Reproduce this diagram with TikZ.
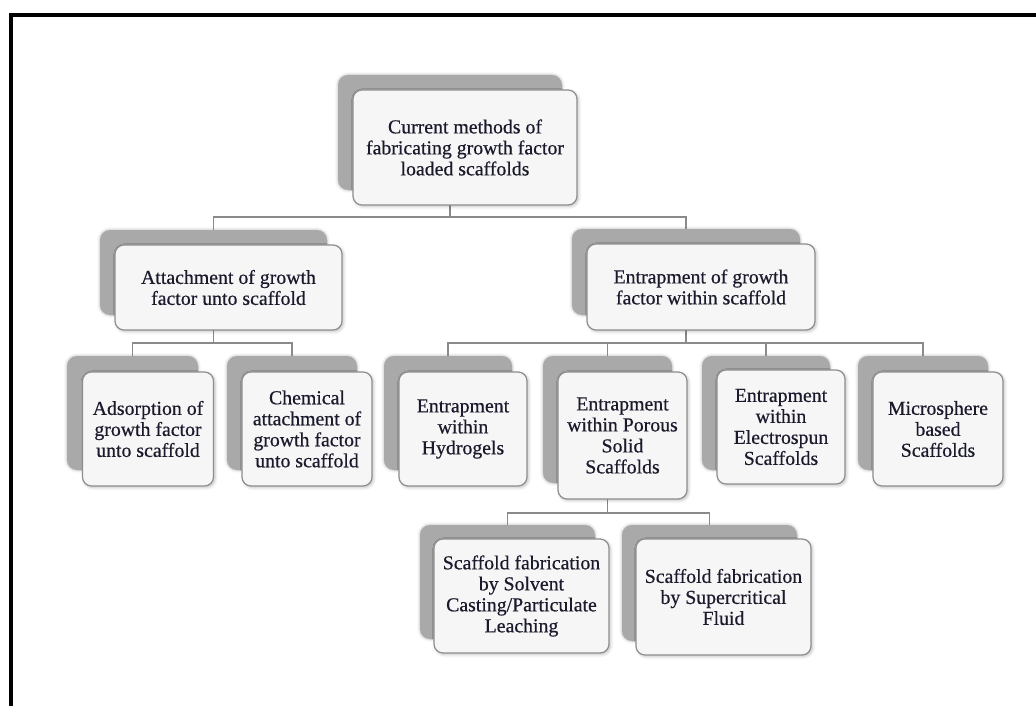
\documentclass[tikz,border=0pt]{standalone}
\usepackage{fontspec}
\setmainfont{Liberation Serif}
\newfontfamily\boxfont[FakeBold=0.5]{Liberation Serif}
\usetikzlibrary{shadows.blur}
\definecolor{backgray}{HTML}{A9A9A9}
\definecolor{edgegray}{HTML}{8E8E8E}
\definecolor{linegray}{HTML}{8A8A8A}
\definecolor{inkblue}{HTML}{1A1A2C}
\definecolor{facegray}{HTML}{F6F6F6}

\begin{document}
\begin{tikzpicture}[x=1pt,y=-1pt,
  backbox/.style={fill=backgray, rounded corners=10pt, inner sep=0pt,
    blur shadow={shadow xshift=0pt, shadow yshift=0pt, shadow blur radius=3pt, shadow blur steps=5, shadow opacity=30}},
  facebox/.style={draw=edgegray, line width=1.2pt, fill=facegray, rounded corners=9pt,
    inner sep=0pt, align=center, text=inkblue, font=\boxfont\fontsize{19.8}{21}\selectfont,
    blur shadow={shadow xshift=1.5pt, shadow yshift=-1.5pt, shadow blur radius=3pt, shadow blur steps=5, shadow opacity=25}},
  link/.style={draw=linegray, line width=1.3pt},
  frame/.style={draw=black, line width=4pt}
]
\useasboundingbox (0,0) rectangle (1036,706);

% outer frame (top and left edges)
\draw[frame] (11,710) -- (11,15) -- (1040,15);

% grey backing plates
\node[backbox, minimum width=224pt, minimum height=115pt] (topB) at (450,132.5) {};
\node[backbox, minimum width=227pt, minimum height=85pt]  (attB) at (213.5,272.5) {};
\node[backbox, minimum width=228pt, minimum height=86pt]  (entB) at (686,272) {};
\node[backbox, minimum width=131pt, minimum height=114pt] (adsB) at (132.5,413) {};
\node[backbox, minimum width=130pt, minimum height=114pt] (chmB) at (292,413) {};
\node[backbox, minimum width=128pt, minimum height=114pt] (hydB) at (448,413) {};
\node[backbox, minimum width=129pt, minimum height=127pt] (porB) at (607.5,419.5) {};
\node[backbox, minimum width=128pt, minimum height=114pt] (eleB) at (766,413) {};
\node[backbox, minimum width=130pt, minimum height=114pt] (micB) at (923,413) {};
\node[backbox, minimum width=175pt, minimum height=114pt] (solB) at (507.5,582) {};
\node[backbox, minimum width=175pt, minimum height=116pt] (supB) at (709.5,583) {};

% bus coordinates of the tree
\coordinate (busA) at (topB.south |- 0,217);
\coordinate (busB) at (attB.south |- 0,343);
\coordinate (busC) at (entB.south |- 0,343);
\coordinate (busD) at (porB.south |- 0,513);

% connectors
\draw[link] (topB.south) -- (busA);
\draw[link] (busA) -| (attB.north);
\draw[link] (busA) -| (entB.north);
\draw[link] (attB.south) -- (busB);
\draw[link] (busB) -| (adsB.north);
\draw[link] (busB) -| (chmB.north);
\draw[link] (entB.south) -- (busC);
\draw[link] (busC) -| (hydB.north);
\draw[link] (busC) -| (porB.north);
\draw[link] (busC) -| (eleB.north);
\draw[link] (busC) -| (micB.north);
\draw[link] (porB.south) -- (busD);
\draw[link] (busD) -| (solB.north);
\draw[link] (busD) -| (supB.north);

% white text boxes
\node[facebox, minimum width=224pt, minimum height=115pt] (top) at (465,147.5)
  {Current methods of\\fabricating growth factor\\loaded scaffolds};
\node[facebox, minimum width=227pt, minimum height=85pt] (att) at (228.5,287.5)
  {Attachment of growth\\factor unto scaffold};
\node[facebox, minimum width=228pt, minimum height=86pt] (ent) at (701,287)
  {Entrapment of growth\\factor within scaffold};
\node[facebox, minimum width=131pt, minimum height=114pt] (ads) at (148,429)
  {Adsorption of\\growth factor\\unto scaffold};
\node[facebox, minimum width=130pt, minimum height=114pt] (chm) at (307,429)
  {Chemical\\attachment of\\growth factor\\unto scaffold};
\node[facebox, minimum width=128pt, minimum height=114pt] (hyd) at (463,429)
  {Entrapment\\within\\Hydrogels};
\node[facebox, minimum width=129pt, minimum height=127pt] (por) at (622.5,435.5)
  {Entrapment\\within Porous\\Solid\\Scaffolds};
\node[facebox, minimum width=128pt, minimum height=114pt] (ele) at (781,427)
  {Entrapment\\within\\Electrospun\\Scaffolds};
\node[facebox, minimum width=130pt, minimum height=114pt] (mic) at (938,429)
  {Microsphere\\based\\Scaffolds};
\node[facebox, minimum width=175pt, minimum height=114pt] (sol) at (521.5,596)
  {Scaffold fabrication\\by Solvent\\Casting/Particulate\\Leaching};
\node[facebox, minimum width=175pt, minimum height=116pt] (sup) at (723.5,597)
  {Scaffold fabrication\\by Supercritical\\Fluid};
\end{tikzpicture}
\end{document}
